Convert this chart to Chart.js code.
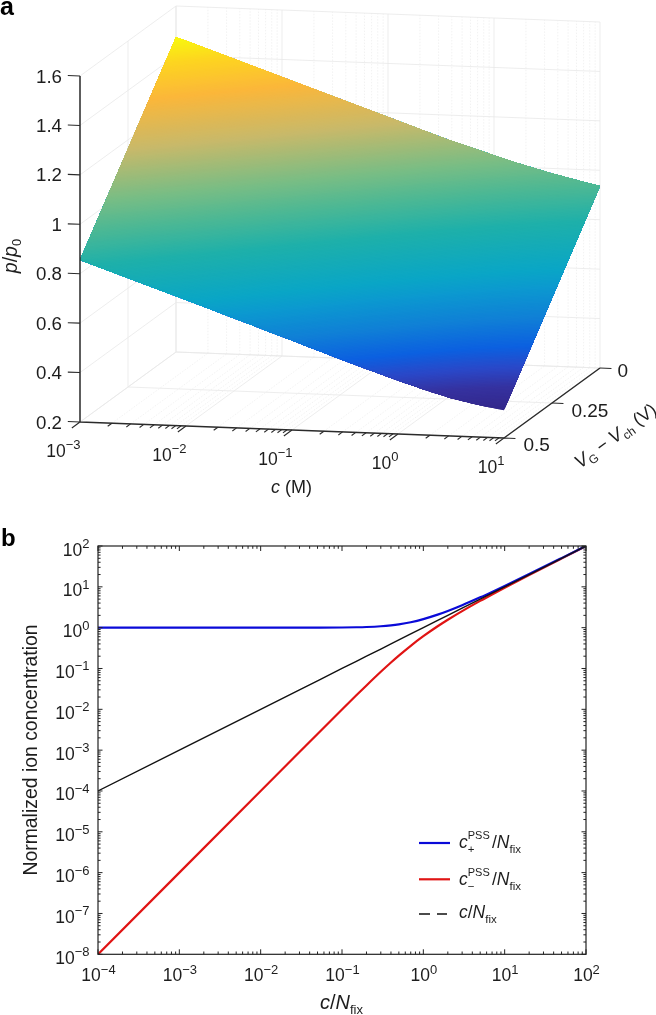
<!DOCTYPE html>
<html><head><meta charset="utf-8">
<style>html,body{margin:0;padding:0;background:#fff;width:656px;height:1015px;overflow:hidden}canvas{position:absolute;left:0;display:block}</style>
<script src="https://cdn.jsdelivr.net/npm/chart.js@4"></script>
</head><body>
<canvas id="a" width="656" height="520" style="top:0"></canvas>
<canvas id="b" width="656" height="495" style="top:520px"></canvas>
<script>
// ---------- Panel a data ----------
const surfaceC = [0.001, 0.01, 0.1, 0.316, 1, 1.78, 3.16, 5.62, 10];
const surfaceP_V0 = [1.474, 1.329, 1.183, 1.110, 1.044, 1.013, 0.985, 0.960, 0.936];
const surfaceP_V025 = [1.165, 1.020, 0.873, 0.799, 0.730, 0.698, 0.669, 0.645, 0.624];
const surfaceP_V05 = [0.855, 0.710, 0.562, 0.487, 0.416, 0.383, 0.353, 0.330, 0.312];
const cMajor = [0.001, 0.01, 0.1, 1, 10];
const cMinorFactors = [2, 3, 4, 5, 6, 7, 8, 9];
const cExponents = ['−3', '−2', '−1', '0', '1'];
const vTicks = [0, 0.25, 0.5];
const vTickLabels = ['0', '0.25', '0.5'];
const pTicks = [0.2, 0.4, 0.6, 0.8, 1, 1.2, 1.4, 1.6];
const pTickLabels = ['0.2', '0.4', '0.6', '0.8', '1', '1.2', '1.4', '1.6'];
const colorP = [0.31, 0.376, 0.43, 0.488, 0.57, 0.65, 0.704, 0.835, 0.936, 1.02, 1.16, 1.30, 1.40, 1.474];
const colorRGB = ['#33278a', '#3532a0', '#2a48c8', '#0c60e0', '#1080d6', '#0c98d0', '#0aa6c6', '#1eb0aa', '#4db894', '#78bd85', '#c8b96a', '#fbb73a', '#fdd520', '#f8fa0e'];

// ---------- Panel b data ----------
const ratio = [0.0001, 0.001, 0.01, 0.03, 0.05, 0.1, 0.15, 0.2, 0.3, 0.4, 0.5, 0.7, 1, 1.5, 2, 3, 5, 7, 10, 20, 50, 100];
const cPlus = [1, 1.0000005, 1.0001, 1.0009, 1.0025, 1.0099, 1.022, 1.0385, 1.0831, 1.1403, 1.2071, 1.3602, 1.618, 2.0811, 2.5616, 3.5414, 5.525, 7.518, 10.512, 20.506, 50.5025, 100.5];
const cMinus = [1e-8, 1e-6, 0.0001, 0.0009, 0.0025, 0.0099, 0.022, 0.0385, 0.0831, 0.1403, 0.2071, 0.3602, 0.618, 1.0811, 1.5616, 2.5414, 4.525, 6.518, 9.512, 19.506, 49.5025, 99.5];
const cRatio = [0.0001, 0.001, 0.01, 0.03, 0.05, 0.1, 0.15, 0.2, 0.3, 0.4, 0.5, 0.7, 1, 1.5, 2, 3, 5, 7, 10, 20, 50, 100];
const xExponents = [-4, -3, -2, -1, 0, 1, 2];
const yExponents = [2, 1, 0, -1, -2, -3, -4, -5, -6, -7, -8];

const FONT = '"Liberation Sans", Arial, sans-serif';
function expText(e){ return String(e).replace('-', '−'); }
function runsWidth(ctx, runs){
  let w = 0;
  for (const r of runs){ ctx.font = (r.i?'italic ':'') + r.s + 'px ' + FONT; if (r.adv !== 0) w += ctx.measureText(r.t).width + (r.gap||0); }
  return w;
}
function drawRuns(ctx, x, y, runs, align){
  let cx = x;
  if (align === 'right') cx -= runsWidth(ctx, runs);
  if (align === 'center') cx -= runsWidth(ctx, runs) / 2;
  ctx.textAlign = 'left'; ctx.textBaseline = 'alphabetic';
  for (const r of runs){
    ctx.font = (r.i?'italic ':'') + r.s + 'px ' + FONT;
    ctx.fillText(r.t, cx, y + (r.dy||0));
    if (r.adv !== 0) cx += ctx.measureText(r.t).width + (r.gap||0);
  }
}
function powerRuns(exp, big, small, rise){
  return [{t:'10', s:big}, {t:exp, s:small, dy:-rise}];
}

// ---------- Panel a ----------
function project(c, V, p){
  const t = (Math.log10(c) + 3) / 4, s = (0.5 - V) / 0.5, z = (p - 0.2) / 1.4;
  return {x: 80 + 424 * t + 96 * s, y: 422 + 16 * t - 70 * s - 346 * z};
}
const GAP = {x: null, y: null};
function segs(list){ const out = []; list.forEach(l => { out.push(project(...l[0]), project(...l[1]), GAP); }); return out; }
const cMin = cMajor[0], cMax = cMajor[cMajor.length - 1];
const vFront = vTicks[2], vBack = vTicks[0];
const pLo = pTicks[0], pHi = pTicks[pTicks.length - 1];
const cMinors = [];
cMajor.slice(0, -1).forEach(m => cMinorFactors.forEach(f => cMinors.push(m * f)));
const gridMajor = [], gridMinor = [];
cMajor.forEach(c => { gridMajor.push([[c, vFront, pLo], [c, vBack, pLo]]); gridMajor.push([[c, vBack, pLo], [c, vBack, pHi]]); });
cMinors.forEach(c => { gridMinor.push([[c, vFront, pLo], [c, vBack, pLo]]); gridMinor.push([[c, vBack, pLo], [c, vBack, pHi]]); });
pTicks.forEach(p => { gridMajor.push([[cMin, vFront, p], [cMin, vBack, p]]); gridMajor.push([[cMin, vBack, p], [cMax, vBack, p]]); });
vTicks.forEach(v => { gridMajor.push([[cMin, v, pLo], [cMin, v, pHi]]); gridMajor.push([[cMin, v, pLo], [cMax, v, pLo]]); });

const axisLines = [[[cMin, vFront, pLo], [cMin, vFront, pHi]], [[cMin, vFront, pLo], [cMax, vFront, pLo]], [[cMax, vFront, pLo], [cMax, vBack, pLo]]];
const tickLines = [];
pTicks.forEach(p => tickLines.push([[cMin, vFront, p], [cMin * Math.pow(10, -0.115), vFront, p]]));
vTicks.forEach(v => tickLines.push([[cMax, v, pLo], [cMax * Math.pow(10, 0.108), v, pLo]]));
cMajor.forEach(c => tickLines.push([[c, vFront, pLo], [c, vFront + 0.0425, pLo]]));
cMinors.forEach(c => tickLines.push([[c, vFront, pLo], [c, vFront + 0.022, pLo]]));

function hexRgb(h){ return [1,3,5].map(i => parseInt(h.substr(i,2),16)); }
function colorAt(p){
  let i = 0;
  while (i < colorP.length - 2 && p > colorP[i+1]) i++;
  const f = Math.max(0, Math.min(1, (p - colorP[i]) / (colorP[i+1] - colorP[i])));
  const a = hexRgb(colorRGB[i]), b = hexRgb(colorRGB[i+1]);
  return 'rgb(' + a.map((v,k) => Math.round(v + (b[k]-v)*f)).join(',') + ')';
}
// sub-steps between read columns, used only to trace the colour bands
const mesh = [];
for (let i = 0; i < surfaceC.length - 1; i++){
  const SUB = 8;
  for (let k = 0; k < SUB + (i === surfaceC.length - 2 ? 1 : 0); k++){
    const f = k / SUB, mix = A => A[i] + (A[i+1] - A[i]) * f;
    mesh.push({lc: Math.log10(surfaceC[i]) + (Math.log10(surfaceC[i+1]) - Math.log10(surfaceC[i])) * f,
               p05: mix(surfaceP_V05), p025: mix(surfaceP_V025), p0: mix(surfaceP_V0)});
  }
}
function vForLevel(col, level){
  if (level <= col.p05) return vFront;
  if (level <= col.p025) return 0.5 - 0.25 * (level - col.p05) / (col.p025 - col.p05);
  return 0.25 - 0.25 * (level - col.p025) / (col.p0 - col.p025);
}
function bandPolygon(level){
  const upper = [], lower = [];
  for (let k = 0; k < mesh.length; k++){
    const col = mesh[k];
    if (col.p0 >= level){
      const c = Math.pow(10, col.lc);
      upper.push(project(c, vBack, col.p0));
      lower.push(project(c, vForLevel(col, level), level <= col.p05 ? col.p05 : level));
    } else {
      const prev = mesh[k-1];
      if (prev){
        const f = (prev.p0 - level) / (prev.p0 - col.p0);
        upper.push(project(Math.pow(10, prev.lc + (col.lc - prev.lc) * f), vBack, level));
      }
      break;
    }
  }
  return upper.concat(lower.reverse());
}
const levels = [];
const pMin = Math.min(...surfaceP_V05), pMax = Math.max(...surfaceP_V0);
for (let l = pMin; l < pMax; l += 0.004) levels.push(l);

const datasetsA = [];
const lineDs = (label, data, color, width, dash) => ({label, data, borderColor: color, borderWidth: width, borderDash: dash || [], pointRadius: 0, fill: false, tension: 0, clip: false, spanGaps: false});
datasetsA.push(lineDs('axes', segs(axisLines), '#2b2b2b', 1.5));
datasetsA.push(lineDs('ticks', segs(tickLines), '#2b2b2b', 1.1));
levels.slice().reverse().forEach(l => datasetsA.push({label: 'p ' + l.toFixed(3), data: bandPolygon(l), showLine: false, borderWidth: 0, pointRadius: 0, fill: 'shape', backgroundColor: colorAt(l), clip: false}));
datasetsA.push(lineDs('grid major', segs(gridMajor), '#e8e8e8', 0.8));
datasetsA.push(lineDs('grid minor', segs(gridMinor), '#ececec', 0.7, [1.5, 1.5]));

const textA = {id: 'textA', afterDraw(chart){
  const ctx = chart.ctx; const sx = chart.scales.x, sy = chart.scales.y;
  const px = pt => ({x: sx.getPixelForValue(pt.x), y: sy.getPixelForValue(pt.y)});
  ctx.save(); ctx.fillStyle = '#1d1d1d';
  ctx.font = 'bold 25px ' + FONT; ctx.textAlign = 'left'; ctx.textBaseline = 'alphabetic';
  ctx.fillStyle = '#000'; ctx.fillText('a', 0, 15); ctx.fillStyle = '#1d1d1d';
  pTicks.forEach((p, i) => { const a = px(project(cMin, vFront, p)); drawRuns(ctx, a.x - 18, a.y + 6.5, [{t: pTickLabels[i], s: 18.7}], 'right'); });
  cMajor.forEach((c, i) => { const a = px(project(c, vFront, pLo)); drawRuns(ctx, a.x + 0.5, a.y + 34.5, powerRuns(cExponents[i], 17.5, 13, 7.5), 'right'); });
  const vOff = [[6, 9], [8, 14], [8, 13]];
  vTicks.forEach((v, i) => { const a = px(project(cMax * Math.pow(10, 0.108), v, pLo)); drawRuns(ctx, a.x + vOff[i][0], a.y + vOff[i][1], [{t: vTickLabels[i], s: 19}]); });
  drawRuns(ctx, 271, 493, [{t:'c', s:18, i:1}, {t:' (M)', s:18}]);
  ctx.save(); ctx.translate(17, 256); ctx.rotate(-Math.PI/2);
  drawRuns(ctx, 0, 0, [{t:'p', s:19.5, i:1}, {t:'/', s:19.5}, {t:'p', s:19.5, i:1}, {t:'0', s:13, dy:3.5}], 'center');
  ctx.restore();
  ctx.save(); ctx.translate(580, 469); ctx.rotate(-Math.atan2(70, 96));
  drawRuns(ctx, 0, 0, [{t:'V', s:18.5, i:1}, {t:'G', s:12, dy:4}, {t:' − ', s:18}, {t:'V', s:18.5, i:1}, {t:'ch', s:12, dy:4}, {t:' (V)', s:18}]);
  ctx.restore();
  ctx.restore();
}};
new Chart(document.getElementById('a'), {
  type: 'line',
  data: {datasets: datasetsA},
  options: {responsive: false, animation: false, devicePixelRatio: 1, layout: {padding: 0}, events: [],
    plugins: {legend: {display: false}, tooltip: {enabled: false}, title: {display: false}},
    scales: {x: {type: 'linear', min: 0, max: 656, display: false}, y: {type: 'linear', min: 0, max: 520, reverse: true, display: false}}},
  plugins: [textA]
});

// ---------- Panel b ----------
const toXY = (xs, ys) => xs.map((x, i) => ({x, y: ys[i]}));
const legendItems = [
  {color: '#0a0ad8', width: 2.2, dash: []},
  {color: '#e01414', width: 2.2, dash: []},
  {color: '#111111', width: 1.4, dash: [11, 7]}
];
const frameB = {id: 'frameB', afterDraw(chart){
  const ctx = chart.ctx; const {x: sx, y: sy} = chart.scales; const A = chart.chartArea;
  ctx.save();
  ctx.strokeStyle = '#222'; ctx.fillStyle = '#1d1d1d'; ctx.lineWidth = 1.2;
  ctx.strokeRect(A.left, A.top, A.right - A.left, A.bottom - A.top);
  const line = (x1, y1, x2, y2) => { ctx.beginPath(); ctx.moveTo(x1, y1); ctx.lineTo(x2, y2); ctx.stroke(); };
  ctx.lineWidth = 1;
  xExponents.forEach(e => {
    const v = Math.pow(10, e), p = sx.getPixelForValue(v);
    line(p, A.bottom, p, A.bottom - 5); line(p, A.top, p, A.top + 5);
    if (e < xExponents[xExponents.length - 1]) for (const f of cMinorFactors){ const q = sx.getPixelForValue(v * f); line(q, A.bottom, q, A.bottom - 2.8); line(q, A.top, q, A.top + 2.8); }
    drawRuns(ctx, p + 0.5, 461, powerRuns(expText(e), 17.5, 13, 7.5), 'center');
  });
  yExponents.forEach(e => {
    const v = Math.pow(10, e), p = sy.getPixelForValue(v);
    line(A.left, p, A.left + 4.5, p); line(A.right, p, A.right - 4.5, p);
    if (e > yExponents[yExponents.length - 1]) for (const f of cMinorFactors){ const q = sy.getPixelForValue(v * f / 10); line(A.left, q, A.left + 2.6, q); line(A.right, q, A.right - 2.6, q); }
    drawRuns(ctx, 89.5, p + 9.5, powerRuns(expText(e), 17.5, 13, 7.5), 'right');
  });
  ctx.restore();
}};
const textB = {id: 'textB', afterDraw(chart){
  const ctx = chart.ctx;
  ctx.save(); ctx.fillStyle = '#000';
  ctx.font = 'bold 24px ' + FONT; ctx.textAlign = 'left'; ctx.textBaseline = 'alphabetic';
  ctx.fillText('b', 1, 26);
  ctx.fillStyle = '#1d1d1d';
  drawRuns(ctx, 320, 488.5, [{t:'c', s:20, i:1}, {t:'/', s:20}, {t:'N', s:20, i:1}, {t:'fix', s:13, dy:5}]);
  ctx.save(); ctx.translate(37, 230); ctx.rotate(-Math.PI/2);
  drawRuns(ctx, 0, 0, [{t:'Normalized ion concentration', s:19.4}], 'center');
  ctx.restore();
  const rows = [323, 359.3, 394];
  legendItems.forEach((it, i) => {
    ctx.save(); ctx.strokeStyle = it.color; ctx.lineWidth = it.width; ctx.setLineDash(it.dash);
    ctx.beginPath(); ctx.moveTo(419, rows[i]); ctx.lineTo(450 - (it.dash.length ? 3 : 0), rows[i]); ctx.stroke(); ctx.restore();
  });
  const big = 17.5, sm = 11.5;
  drawRuns(ctx, 459, 328, [{t:'c', s:big, i:1}, {t:'PSS', s:11, dy:-9, adv:0}, {t:'+', s:sm, dy:5}]);
  drawRuns(ctx, 492, 328, [{t:'/', s:big}, {t:'N', s:big, i:1}, {t:'fix', s:sm, dy:5}]);
  drawRuns(ctx, 459, 365, [{t:'c', s:big, i:1}, {t:'PSS', s:11, dy:-9, adv:0}, {t:'−', s:sm, dy:5}]);
  drawRuns(ctx, 492, 365, [{t:'/', s:big}, {t:'N', s:big, i:1}, {t:'fix', s:sm, dy:5}]);
  drawRuns(ctx, 459, 398, [{t:'c', s:big, i:1}, {t:'/', s:big}, {t:'N', s:big, i:1}, {t:'fix', s:sm, dy:5}]);
  ctx.restore();
}};
new Chart(document.getElementById('b'), {
  type: 'line',
  data: {datasets: [
    {label: 'c/Nfix', data: toXY(ratio, cRatio), borderColor: '#111111', borderWidth: 1.4, pointRadius: 0, tension: 0, fill: false},
    {label: 'c+PSS/Nfix', data: toXY(ratio, cPlus), borderColor: '#0a0ad8', borderWidth: 2.2, pointRadius: 0, cubicInterpolationMode: 'monotone', fill: false},
    {label: 'c−PSS/Nfix', data: toXY(ratio, cMinus), borderColor: '#e01414', borderWidth: 2.2, pointRadius: 0, cubicInterpolationMode: 'monotone', fill: false}
  ]},
  options: {responsive: false, animation: false, devicePixelRatio: 1, events: [],
    layout: {padding: {left: 98, right: 70, top: 26, bottom: 60.7}},
    plugins: {legend: {display: false}, tooltip: {enabled: false}, title: {display: false}},
    scales: {x: {type: 'logarithmic', min: 1e-4, max: 100, display: false}, y: {type: 'logarithmic', min: 1e-8, max: 100, display: false}}},
  plugins: [frameB, textB]
});
</script>
</body></html>
